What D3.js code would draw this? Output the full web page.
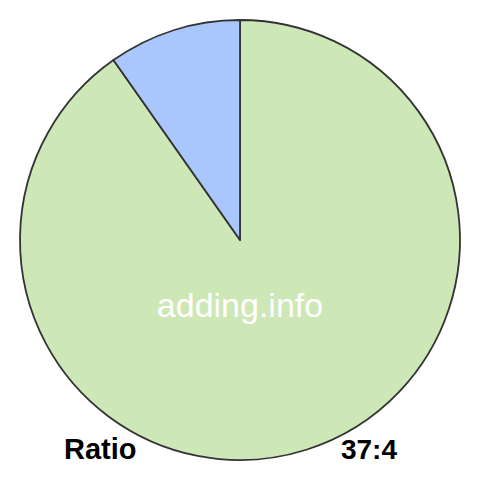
<!DOCTYPE html>
<html><head><meta charset="utf-8">
<script src="https://cdn.jsdelivr.net/npm/d3@7"></script>
<style>body{margin:0;background:#fff}</style>
</head><body>
<svg id="c" width="480" height="480"></svg>
<script>
const categories = ["A", "B"];
const values = [37, 4];
const colors = ["#cde7b7", "#a9c7fd"];
const labelLeft = "Ratio";
const labelRight = "37:4";
const watermark = "adding.info";

const svg = d3.select("#c");
const cx = 240, cy = 240, r = 220;
const pie = d3.pie().sort(null).startAngle(0).endAngle(2 * Math.PI);
const arcs = pie(values);
const arc = d3.arc().innerRadius(0).outerRadius(r);
const g = svg.append("g").attr("transform", `translate(${cx},${cy})`);
g.selectAll("path").data(arcs).join("path")
  .attr("d", arc)
  .attr("fill", (d, i) => colors[i])
  .attr("stroke", "#333")
  .attr("stroke-width", 1.8)
  .attr("stroke-linejoin", "round");

svg.append("text").attr("x", 240).attr("y", 317)
  .attr("text-anchor", "middle")
  .attr("font-family", "Liberation Sans, Arial, sans-serif")
  .attr("font-size", 34).attr("fill", "#fff").text(watermark);

svg.append("text").attr("x", 64).attr("y", 459)
  .attr("font-family", "Liberation Sans, Arial, sans-serif")
  .attr("font-weight", "bold").attr("font-size", 29).attr("fill", "#000").text(labelLeft);
svg.append("text").attr("x", 397).attr("y", 459).attr("text-anchor", "end")
  .attr("font-family", "Liberation Sans, Arial, sans-serif")
  .attr("font-weight", "bold").attr("font-size", 28).attr("fill", "#000").text(labelRight);
</script>
</body></html>
